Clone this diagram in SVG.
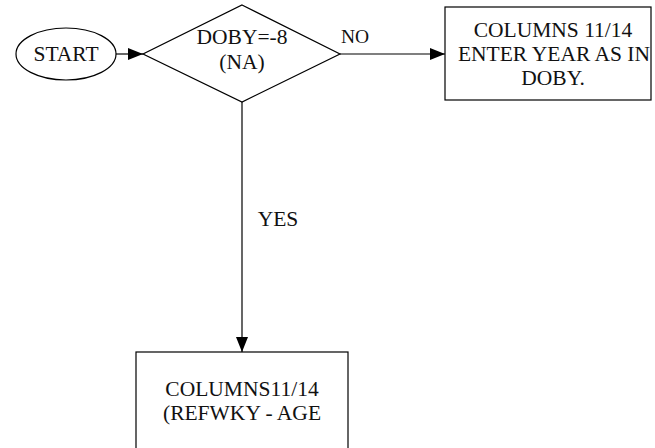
<svg xmlns="http://www.w3.org/2000/svg" width="655" height="448" viewBox="0 0 655 448" font-family="Liberation Serif, Times New Roman, serif" font-size="21.5">
  <defs>
    <marker id="arrow" viewBox="0 0 15 12" refX="15" refY="6" markerWidth="15" markerHeight="12" markerUnits="userSpaceOnUse" orient="auto">
      <path d="M0,0 L15,6 L0,12 Z" fill="#000"/>
    </marker>
    <style>
      .shape { fill: #fff; stroke: #000; stroke-width: 1.2; }
      .edge { fill: none; stroke: #000; stroke-width: 1.2; marker-end: url(#arrow); }
      .lbl { fill: #111; text-anchor: middle; }
    </style>
  </defs>
  <rect width="655" height="448" fill="#fff"/>

  <g id="connectors">
    <line class="edge" x1="116" y1="54" x2="143" y2="54"/>
    <line class="edge" x1="340" y1="54" x2="445" y2="54"/>
    <line class="edge" x1="242" y1="102" x2="242" y2="352"/>
    <text class="lbl" x="355" y="43" font-size="19.5">NO</text>
    <text class="lbl" x="278" y="226">YES</text>
  </g>

  <g id="start">
    <ellipse class="shape" cx="66" cy="54" rx="50" ry="26"/>
    <text class="lbl" x="66" y="61">START</text>
  </g>

  <g id="check-doby">
    <polygon class="shape" points="242,5 340,54 242,102 143,54"/>
    <text class="lbl" x="242" y="44">DOBY=-8</text>
    <text class="lbl" x="242" y="69">(NA)</text>
  </g>

  <g id="enter-year">
    <rect class="shape" x="445" y="7" width="206" height="93"/>
    <text class="lbl" x="553" y="37">COLUMNS 11/14</text>
    <text class="lbl" x="554" y="61">ENTER YEAR AS IN</text>
    <text class="lbl" x="553" y="85">DOBY.</text>
  </g>

  <g id="refwky-age">
    <rect class="shape" x="136" y="352" width="212" height="110"/>
    <text class="lbl" x="242" y="396">COLUMNS11/14</text>
    <text class="lbl" x="242" y="420">(REFWKY - AGE</text>
  </g>
</svg>
